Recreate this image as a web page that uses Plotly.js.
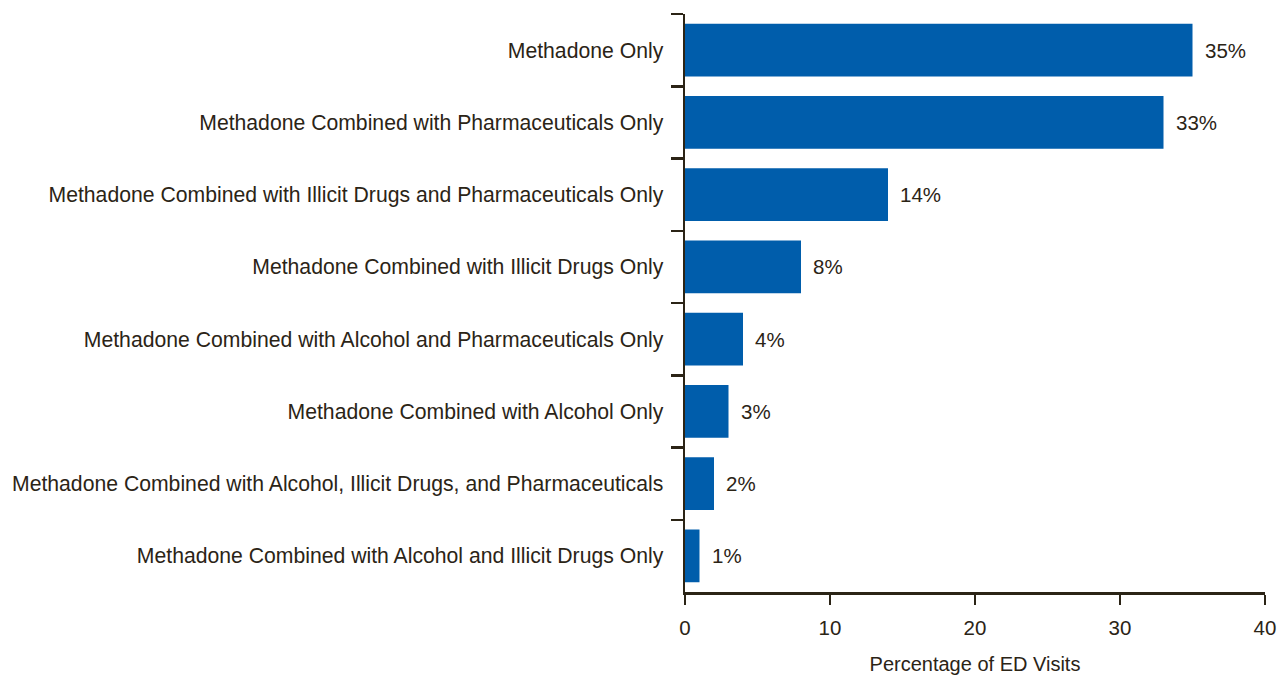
<!DOCTYPE html>
<html>
<head>
<meta charset="utf-8">
<script src="https://cdn.plot.ly/plotly-3.0.1.min.js"></script>
<style>html,body{margin:0;padding:0;background:#fff;}#chart{width:1287px;height:675px;}</style>
</head>
<body>
<div id="chart"></div>
<script>
const categories = [
  "Methadone Only",
  "Methadone Combined with Pharmaceuticals Only",
  "Methadone Combined with Illicit Drugs and Pharmaceuticals Only",
  "Methadone Combined with Illicit Drugs Only",
  "Methadone Combined with Alcohol and Pharmaceuticals Only",
  "Methadone Combined with Alcohol Only",
  "Methadone Combined with Alcohol, Illicit Drugs, and Pharmaceuticals",
  "Methadone Combined with Alcohol and Illicit Drugs Only"
];
const values = [35, 33, 14, 8, 4, 3, 2, 1];
const valueLabels = ["35%", "33%", "14%", "8%", "4%", "3%", "2%", "1%"];
const xTicks = [0, 10, 20, 30, 40];

const textColor = "#2b2416";
const font = "Liberation Sans, Arial, Helvetica, sans-serif";

const trace = {
  type: "bar",
  orientation: "h",
  y: categories,
  x: values,
  marker: {color: "#005dab"},
  hoverinfo: "x+y"
};

const annotations = categories.map((c, i) => ({
  x: values[i], y: c, xref: "x", yref: "y",
  text: valueLabels[i], showarrow: false,
  xanchor: "left", yanchor: "middle", xshift: 10,
  font: {family: font, size: 20.5, color: textColor}
}));

const layout = {
  width: 1287, height: 675,
  margin: {l: 685, r: 22, t: 14, b: 83},
  paper_bgcolor: "#fff", plot_bgcolor: "#fff",
  bargap: 0.27,
  showlegend: false,
  font: {family: font, size: 20, color: textColor},
  xaxis: {
    range: [0, 40], tickvals: xTicks, ticktext: xTicks.map(String),
    showgrid: false, zeroline: false,
    showline: true, linecolor: textColor, linewidth: 2.5,
    ticks: "outside", ticklen: 10, tickwidth: 2.5, tickcolor: textColor,
    tickfont: {family: font, size: 20.5, color: textColor},
    ticklabelstandoff: 6,
    title: {text: "Percentage of ED Visits", font: {family: font, size: 20, color: textColor}, standoff: 20},
    fixedrange: true
  },
  yaxis: {
    type: "category", categoryorder: "array", categoryarray: categories,
    autorange: "reversed",
    showgrid: false, zeroline: false,
    showline: true, linecolor: textColor, linewidth: 2.5,
    ticks: "outside", tickson: "boundaries", ticklen: 12, tickwidth: 2.5, tickcolor: textColor,
    tickfont: {family: font, size: 21.2, color: textColor},
    ticklabelstandoff: 15,
    fixedrange: true
  },
  annotations: annotations
};

Plotly.newPlot("chart", [trace], layout, {displayModeBar: false, staticPlot: true});
</script>
</body>
</html>
